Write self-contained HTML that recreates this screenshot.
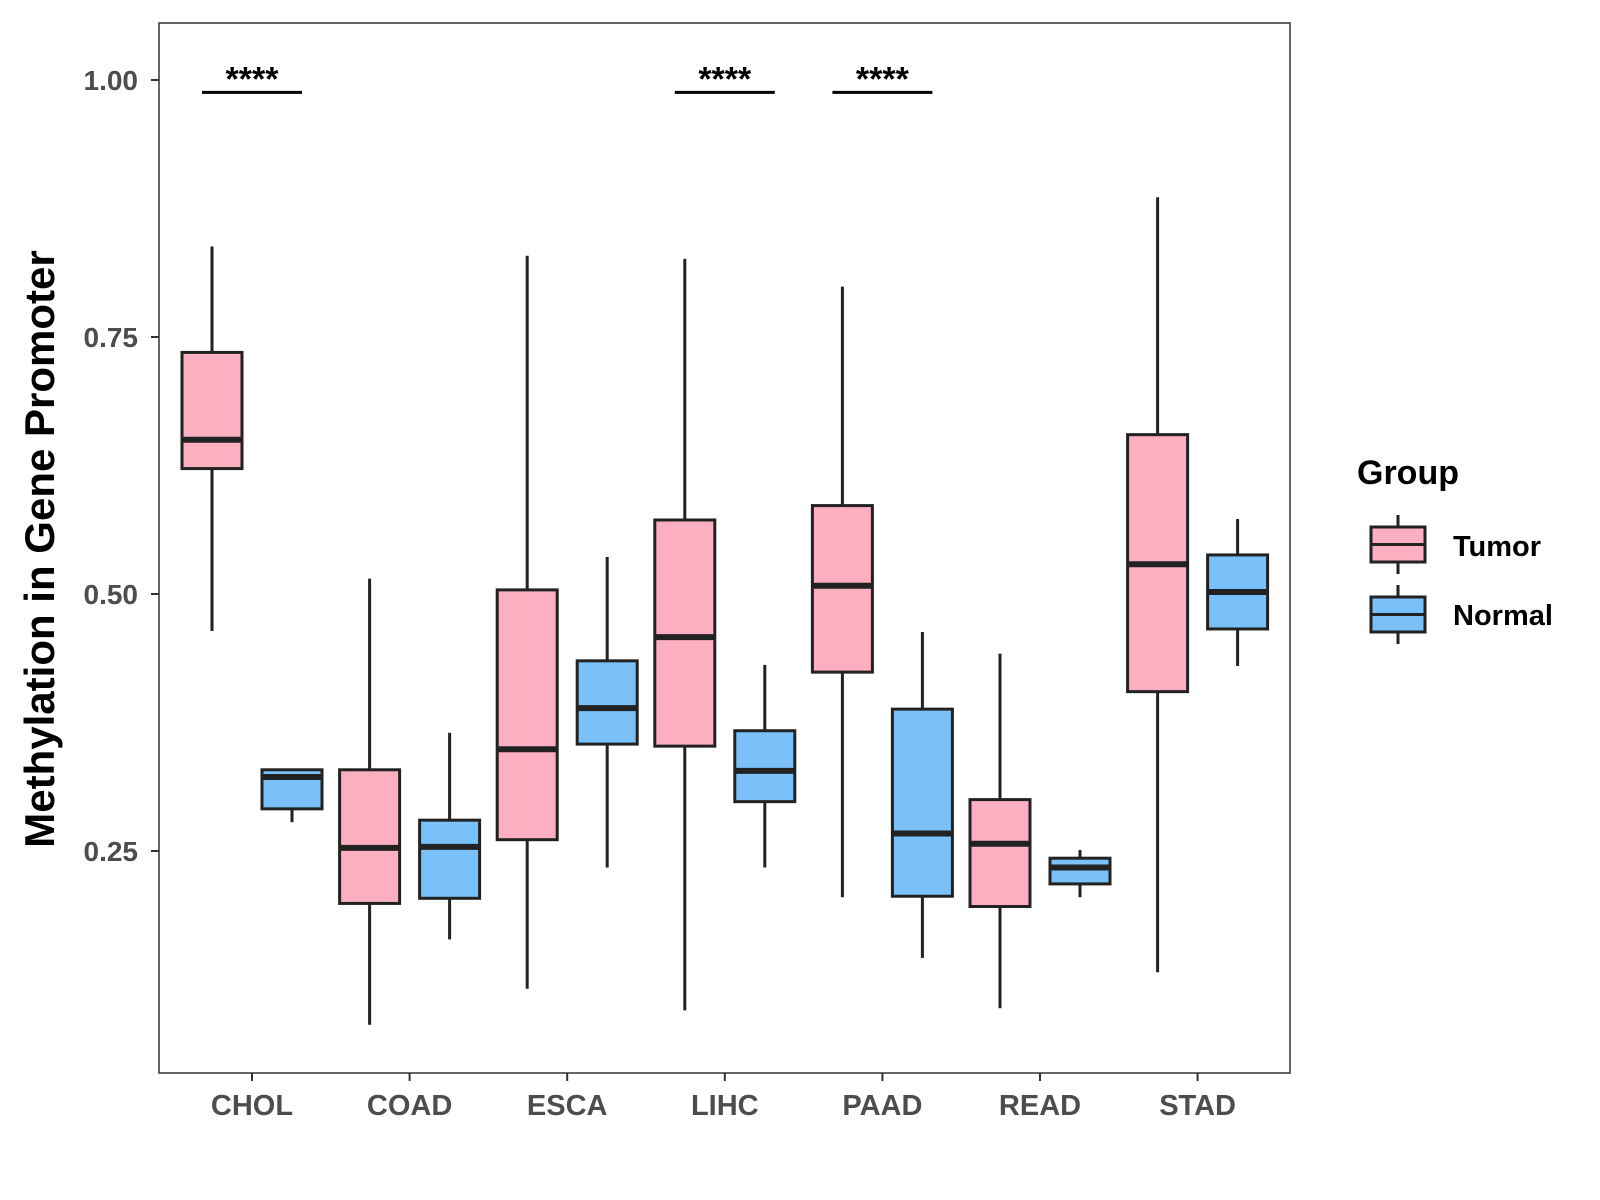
<!DOCTYPE html>
<html><head><meta charset="utf-8"><style>
body{margin:0;background:#fff}
svg{display:block;font-family:"Liberation Sans",Arial,sans-serif}
</style></head><body>
<svg id="chart" width="1600" height="1200" viewBox="0 0 1600 1200" xmlns="http://www.w3.org/2000/svg">
<rect x="0" y="0" width="1600" height="1200" fill="#fff"/>
<g id="marks"></g>
<rect x="159" y="23" width="1131" height="1050" fill="none" stroke="#333" stroke-width="1.5"/>
<g id="axes"></g>
<text transform="translate(54,549) rotate(-90)" text-anchor="middle" font-size="42" font-weight="bold" fill="#000">Methylation in Gene Promoter</text>
<g>
<text x="1357" y="484" font-size="34" font-weight="bold" fill="#000">Group</text>
<g>
<line x1="1398" y1="515" x2="1398" y2="574" stroke="#222" stroke-width="3"/>
<rect x="1371" y="527" width="54" height="35" fill="#fbafc0" stroke="#222" stroke-width="3"/>
<line x1="1371" y1="544.5" x2="1425" y2="544.5" stroke="#222" stroke-width="3"/>
<text x="1453" y="556" font-size="29" font-weight="bold" fill="#000">Tumor</text>
</g>
<g>
<line x1="1398" y1="585" x2="1398" y2="644" stroke="#222" stroke-width="3"/>
<rect x="1371" y="597" width="54" height="35" fill="#79c1f8" stroke="#222" stroke-width="3"/>
<line x1="1371" y1="614.5" x2="1425" y2="614.5" stroke="#222" stroke-width="3"/>
<text x="1453" y="625" font-size="29" font-weight="bold" fill="#000">Normal</text>
</g>
</g>
</svg>
<script>
const categories=["CHOL","COAD","ESCA","LIHC","PAAD","READ","STAD"];
const tumorLow=[0.464,0.081,0.116,0.095,0.205,0.097,0.132];
const tumorQ1=[0.622,0.199,0.261,0.352,0.424,0.196,0.405];
const tumorMed=[0.650,0.253,0.349,0.458,0.508,0.257,0.529];
const tumorQ3=[0.735,0.329,0.504,0.572,0.586,0.300,0.655];
const tumorHigh=[0.838,0.515,0.829,0.826,0.799,0.442,0.886];
const normalLow=[0.278,0.164,0.234,0.234,0.146,0.205,0.430];
const normalQ1=[0.291,0.204,0.354,0.298,0.206,0.218,0.466];
const normalMed=[0.322,0.254,0.389,0.328,0.267,0.234,0.502];
const normalQ3=[0.329,0.280,0.435,0.367,0.388,0.243,0.538];
const normalHigh=[0.329,0.365,0.536,0.431,0.463,0.251,0.573];
const yTicks=[0.25,0.50,0.75,1.00];
const yTickLabels=["0.25","0.50","0.75","1.00"];
const sigCategories=["CHOL","LIHC","PAAD"];
const sigLabels=["****","****","****"];
const sigLevel=0.988;

const NS="http://www.w3.org/2000/svg";
function y(v){return 80+(1-v)*1028;}
function x(i){return 252+i*157.6;}
function el(tag,attrs,parent){const e=document.createElementNS(NS,tag);for(const k in attrs)e.setAttribute(k,attrs[k]);parent.appendChild(e);return e;}
const marks=document.getElementById('marks');
const axes=document.getElementById('axes');
const hw=30;
function drawBox(cx,lo,q1,md,q3,hi,fill,name){
  const g=el('g',{},marks);
  
  
  el('line',{x1:cx,x2:cx,y1:y(hi),y2:y(q3),stroke:'#222','stroke-width':3},g);
  el('line',{x1:cx,x2:cx,y1:y(q1),y2:y(lo),stroke:'#222','stroke-width':3},g);
  el('rect',{x:cx-hw,y:y(q3),width:2*hw,height:y(q1)-y(q3),fill:fill,stroke:'#222','stroke-width':3},g);
  el('line',{x1:cx-hw,x2:cx+hw,y1:y(md),y2:y(md),stroke:'#222','stroke-width':6},g);
}
categories.forEach((c,i)=>{
  drawBox(x(i)-40,tumorLow[i],tumorQ1[i],tumorMed[i],tumorQ3[i],tumorHigh[i],'#fbafc0','box-tumor-'+c.toLowerCase());
  drawBox(x(i)+40,normalLow[i],normalQ1[i],normalMed[i],normalQ3[i],normalHigh[i],'#79c1f8','box-normal-'+c.toLowerCase());
  const t=el('line',{x1:x(i),x2:x(i),y1:1073,y2:1081,stroke:'#333','stroke-width':2},axes);
  
  
  const l=el('text',{x:x(i),y:1115,'text-anchor':'middle','font-size':29,'font-weight':'bold',fill:'#4d4d4d'},axes);
  l.textContent=c;
  
  
});
yTicks.forEach((v,i)=>{
  const t=el('line',{x1:151,x2:159,y1:y(v),y2:y(v),stroke:'#333','stroke-width':2},axes);
  
  
  const l=el('text',{x:138,y:y(v)+10,'text-anchor':'end','font-size':28,'font-weight':'bold',fill:'#4d4d4d'},axes);
  l.textContent=yTickLabels[i];
  
  
});
sigCategories.forEach((c,k)=>{
  const i=categories.indexOf(c);
  const ln=el('line',{x1:x(i)-50,x2:x(i)+50,y1:y(sigLevel),y2:y(sigLevel),stroke:'#000','stroke-width':3},marks);
  
  
  const s=el('text',{x:x(i),y:y(sigLevel)-2,'text-anchor':'middle','font-size':34,'font-weight':'bold',fill:'#000'},marks);
  s.textContent=sigLabels[k];
  
  
});
</script>
</body></html>
